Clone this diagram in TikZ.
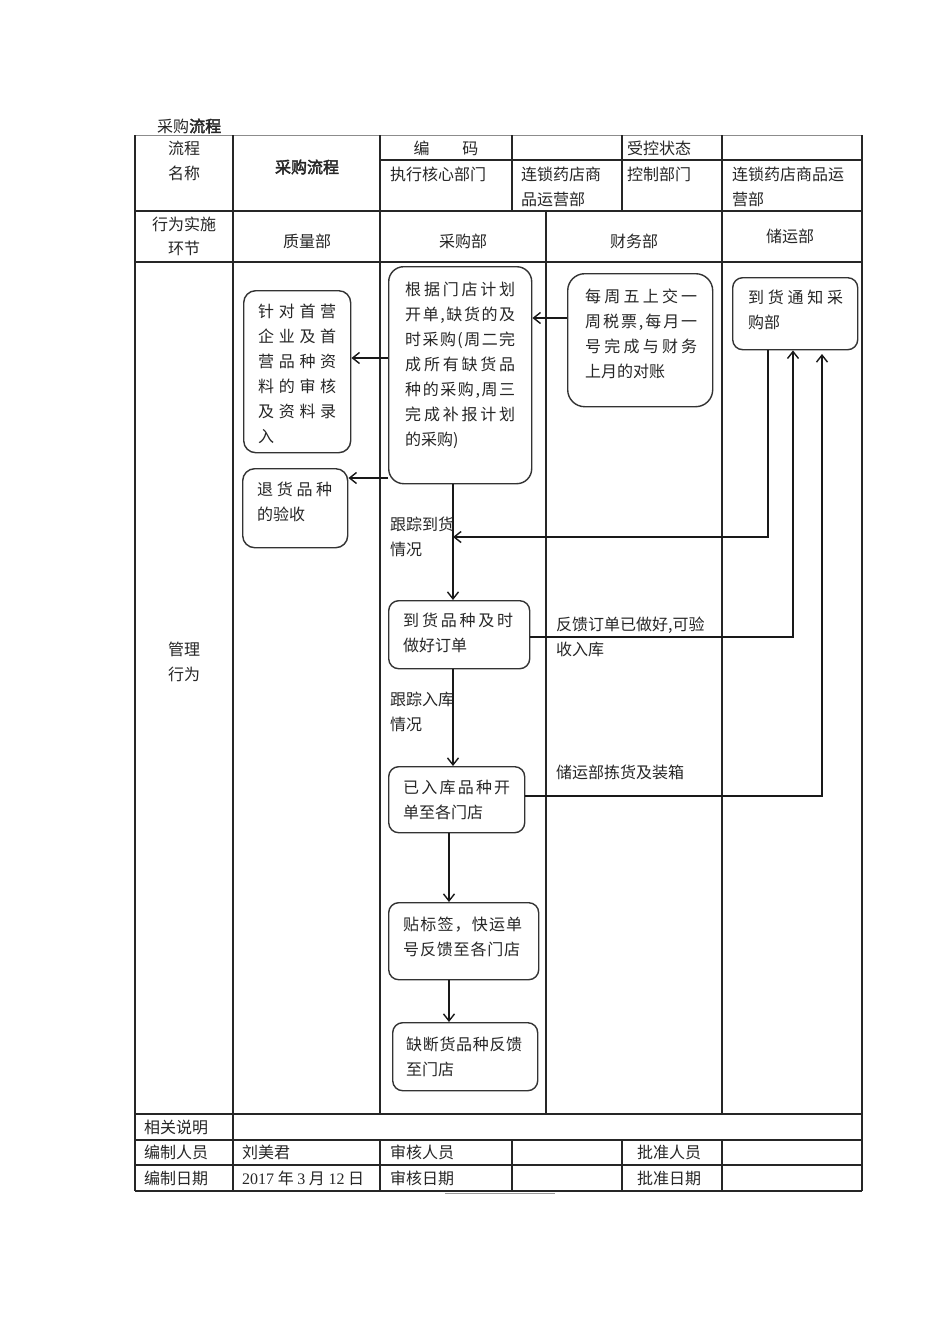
\documentclass[tikz,border=0pt]{standalone}
\usepackage{fontspec}
\setmainfont{Noto Sans CJK SC}[AutoFakeBold=2.5]
\newfontfamily\latserif{Liberation Serif}
\usetikzlibrary{arrows.meta}
\def\sprA#1{\ifx\relax#1\else#1\expandafter\sprB\fi}
\def\sprB#1{\ifx\relax#1\else\hfil#1\expandafter\sprB\fi}
\newcommand\jl[2]{\makebox[#1pt][s]{\sprA#2\relax}}
\tikzset{
  box/.style={draw=black!80, line width=1.4pt, rounded corners=12pt, anchor=north west, inner sep=0pt},
  txt/.style={anchor=north west, inner sep=0pt, align=left, text=black!85},
  cell/.style={inner sep=0pt, text=black!85},
  lcell/.style={inner sep=0pt, anchor=west, text=black!85},
  arr/.style={line width=1.5pt, black!90, -{Straight Barb[length=7pt,width=11pt,line width=1.4pt]}},
  grid/.style={line width=1.1pt, black!85},
}
\begin{document}
\begin{tikzpicture}[x=1pt, y=-1pt, font=\fontsize{16pt}{25pt}\selectfont]
\useasboundingbox (0,0) rectangle (950,1344);
\fill[white] (0,0) rectangle (950,1344);

% title
\node[lcell] (title) at (157,126) {采购\textbf{流程}};

% table grid
\draw[line width=1pt, black!45] (135,135) -- (862,135);
\draw[grid] (380,160) -- (862,160);
\draw[grid] (135,211) -- (862,211);
\draw[grid] (135,262) -- (862,262);
\draw[grid] (135,1114) -- (862,1114);
\draw[grid] (135,1140) -- (862,1140);
\draw[grid] (135,1165) -- (862,1165);
\draw[grid] (135,1191) -- (862,1191);
\draw[grid] (135,135) -- (135,1191);
\draw[grid] (233,135) -- (233,1191);
\draw[grid] (380,135) -- (380,1114);
\draw[grid] (380,1140) -- (380,1191);
\draw[grid] (512,135) -- (512,211);
\draw[grid] (512,1140) -- (512,1191);
\draw[grid] (622,135) -- (622,211);
\draw[grid] (622,1140) -- (622,1191);
\draw[grid] (722,135) -- (722,1114);
\draw[grid] (722,1140) -- (722,1191);
\draw[grid] (862,135) -- (862,1191);
\draw[grid] (546,211) -- (546,1114);
\draw[line width=1pt, black!40] (445,1193) -- (555,1193);

% header texts
\node[cell] (h1) at (184,148) {流程};
\node[cell] (h2) at (184,173) {名称};
\node[cell] (h3) at (307,167) {\textbf{采购流程}};
\node[cell] (h4) at (446,148) {编\hspace{33pt}码};
\node[lcell] (h5) at (627,148) {受控状态};
\node[lcell] (h6) at (390,174) {执行核心部门};
\node[lcell] (h7) at (521,174) {连锁药店商};
\node[lcell] (h8) at (521,199) {品运营部};
\node[lcell] (h9) at (627,174) {控制部门};
\node[lcell] (h10) at (732,174) {连锁药店商品运};
\node[lcell] (h11) at (732,199) {营部};
\node[cell] (r1) at (184,224) {行为实施};
\node[cell] (r2) at (184,248) {环节};
\node[cell] (l1) at (307,241) {质量部};
\node[cell] (l2) at (463,241) {采购部};
\node[cell] (l3) at (634,241) {财务部};
\node[cell] (l4) at (790,236) {储运部};
\node[cell] (m1) at (184,649) {管理};
\node[cell] (m2) at (184,674) {行为};

% footer texts
\node[lcell] (f1a) at (144,1127) {相关说明};
\node[lcell] (f2a) at (144,1152) {编制人员};
\node[lcell] (f2b) at (242,1152) {刘美君};
\node[lcell] (f2c) at (390,1152) {审核人员};
\node[lcell] (f2d) at (637,1152) {批准人员};
\node[lcell] (f3a) at (144,1178) {编制日期};
\node[lcell] (f3b) at (242,1178) {{\latserif 2017} 年 {\latserif 3} 月 {\latserif 12} 日};
\node[lcell] (f3c) at (390,1178) {审核日期};
\node[lcell] (f3d) at (637,1178) {批准日期};

% boxes
\node[box, minimum width=107pt, minimum height=162pt] (q1) at (243,290) {};
\node[txt] (q1t) at (258,304) {\jl{78}{针对首营}\\\jl{78}{企业及首}\\\jl{78}{营品种资}\\\jl{78}{料的审核}\\\jl{78}{及资料录}\\入};
\node[box, minimum width=105pt, minimum height=79pt] (q2) at (242,468) {};
\node[txt] (q2t) at (257,482) {\jl{75}{退货品种}\\的验收};
\node[box, rounded corners=15pt, minimum width=143pt, minimum height=217pt] (p1) at (388,266) {};
\node[txt] (p1t) at (405,282) {\jl{110}{根据门店计划}\\\jl{110}{开单,缺货的及}\\\jl{110}{时采购(周二完}\\\jl{110}{成所有缺货品}\\\jl{110}{种的采购,周三}\\\jl{110}{完成补报计划}\\的采购)};
\node[box, rounded corners=17pt, minimum width=145pt, minimum height=133pt] (f1) at (567,273) {};
\node[txt] (f1t) at (585,289) {\jl{112}{每周五上交一}\\\jl{112}{周税票,每月一}\\\jl{112}{号完成与财务}\\上月的对账};
\node[box, rounded corners=10pt, minimum width=125pt, minimum height=72pt] (s1) at (732,277) {};
\node[txt] (s1t) at (748,290) {\jl{95}{到货通知采}\\购部};
\node[box, rounded corners=10pt, minimum width=141pt, minimum height=68pt] (p2) at (388,600) {};
\node[txt] (p2t) at (403,613) {\jl{110}{到货品种及时}\\做好订单};
\node[box, rounded corners=10pt, minimum width=136pt, minimum height=66pt] (p3) at (388,766) {};
\node[txt] (p3t) at (403,780) {\jl{107}{已入库品种开}\\单至各门店};
\node[box, rounded corners=10pt, minimum width=150pt, minimum height=77pt] (p4) at (388,902) {};
\node[txt] (p4t) at (403,917) {\jl{119}{贴标签，快运单}\\\jl{117}{号反馈至各门店}};
\node[box, rounded corners=10pt, minimum width=145pt, minimum height=68pt] (p5) at (392,1022) {};
\node[txt] (p5t) at (406,1037) {\jl{116}{缺断货品种反馈}\\至门店};

% labels
\node[txt] (lb1) at (390,517) {跟踪到货\\情况};
\node[txt] (lb2) at (556,617) {反馈订单已做好,可验\\收入库};
\node[txt] (lb3) at (390,692) {跟踪入库\\情况};
\node[txt] (lb4) at (556,765) {储运部拣货及装箱};

% connectors
\coordinate (trk) at (453,537);
\coordinate (s1b) at (822,354);
\draw[arr] (p1.west |- 0,358) -- (q1.east |- 0,358);
\draw[arr] (p1.west |- 0,478) -- (q2.east |- 0,478);
\draw[arr] (f1.west |- 0,318) -- (p1.east |- 0,318);
\draw[arr] (p1.south -| 453,0) -- (p2.north -| 453,0);
\draw[arr] (s1.south -| 768,0) |- (trk);
\draw[arr] (p2.east |- 0,637) -| (s1.south -| 793,0);
\draw[arr] (p2.south -| 453,0) -- (p3.north -| 453,0);
\draw[arr] (p3.east |- 0,796) -| (s1b);
\draw[arr] (p3.south -| 449,0) -- (p4.north -| 449,0);
\draw[arr] (p4.south -| 449,0) -- (p5.north -| 449,0);
\end{tikzpicture}
\end{document}
